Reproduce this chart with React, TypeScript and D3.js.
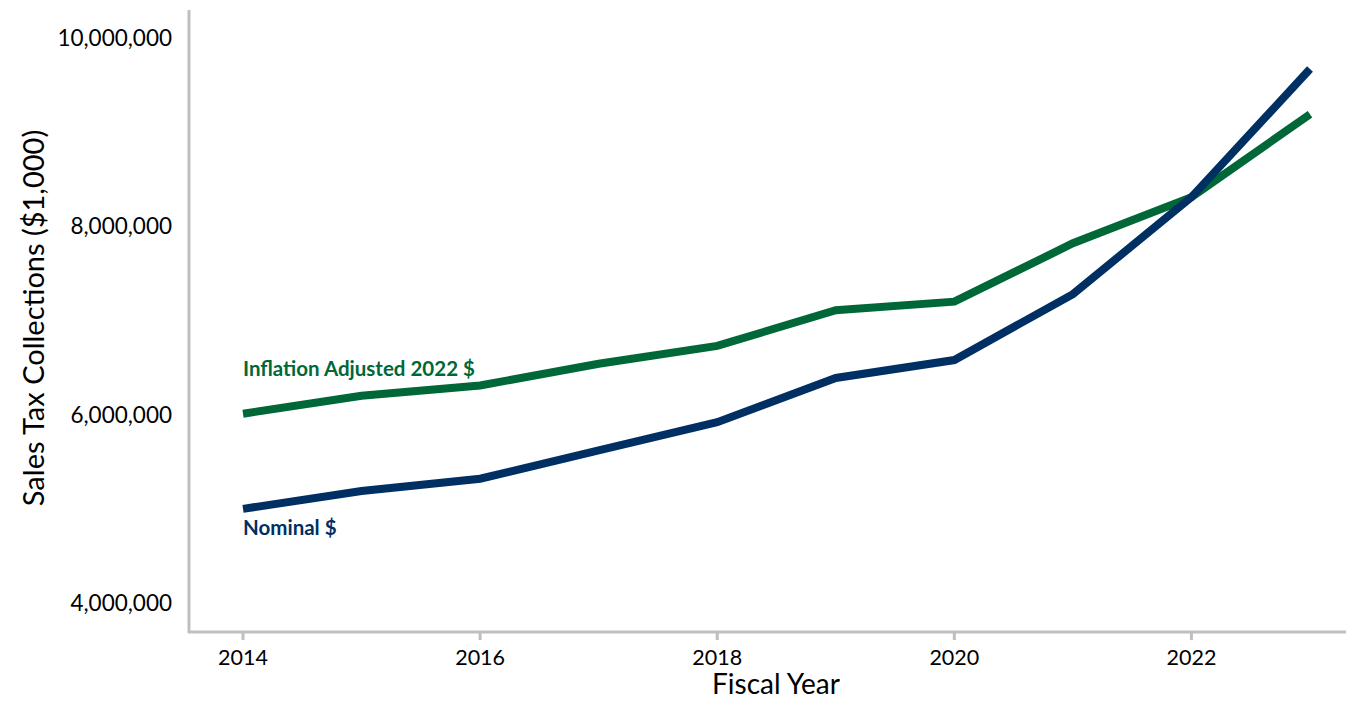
import React from "react";
import * as d3 from "d3";

const years = [2014, 2015, 2016, 2017, 2018, 2019, 2020, 2021, 2022, 2023];
const nominal = [5.0, 5.19, 5.32, 5.62, 5.92, 6.39, 6.58, 7.28, 8.31, 9.67].map((v) => v * 1e6);
const adjusted = [6.01, 6.2, 6.31, 6.54, 6.73, 7.11, 7.2, 7.82, 8.31, 9.19].map((v) => v * 1e6);
const yTicks = [4000000, 6000000, 8000000, 10000000];
const xTicks = [2014, 2016, 2018, 2020, 2022];

const W = 1346;
const H = 701;
const FONT = "Lato, 'Open Sans', sans-serif";

export default function App() {
  const x = d3.scaleLinear().domain([2014, 2023]).range([243, 1310]);
  const y = d3.scaleLinear().domain([4000000, 10000000]).range([603, 38]);
  const line = d3
    .line<number>()
    .x((_, i) => x(years[i]))
    .y((d) => y(d));
  const fmt = d3.format(",");
  const axisColor = "#bfbfbf";
  return (
    <svg
      width={W}
      height={H}
      style={{ position: "absolute", left: 0, top: 0, background: "#fff" }}
      fontFamily={FONT}
    >
      {/* axes */}
      <line x1={189} x2={189} y1={10} y2={633} stroke={axisColor} strokeWidth={3} />
      <line x1={188} x2={W} y1={632} y2={632} stroke={axisColor} strokeWidth={3} />
      {xTicks.map((t) => (
        <g key={t}>
          <line x1={x(t)} x2={x(t)} y1={632} y2={640} stroke={axisColor} strokeWidth={3} />
          <text x={x(t)} y={665} textAnchor="middle" fontSize={21.5} fill="#000">
            {t}
          </text>
        </g>
      ))}
      {yTicks.map((t) => (
        <text key={t} x={172} y={y(t) + 8} textAnchor="end" fontSize={22.5} fill="#000">
          {fmt(t)}
        </text>
      ))}
      <text
        transform={`translate(44, 318) rotate(-90)`}
        textAnchor="middle"
        fontSize={29}
        fill="#000"
      >
        Sales Tax Collections ($1,000)
      </text>
      <text x={776} y={694} textAnchor="middle" fontSize={28} fill="#000">
        Fiscal Year
      </text>
      {/* lines */}
      <path d={line(adjusted) || ""} fill="none" stroke="#006838" strokeWidth={8} />
      <path d={line(nominal) || ""} fill="none" stroke="#003063" strokeWidth={8} />
      {/* labels */}
      <text x={243} y={376} fontSize={20.5} fontWeight="bold" fill="#006838">
        Inflation Adjusted 2022 $
      </text>
      <text x={243} y={535} fontSize={20.5} fontWeight="bold" fill="#003063">
        Nominal $
      </text>
    </svg>
  );
}
